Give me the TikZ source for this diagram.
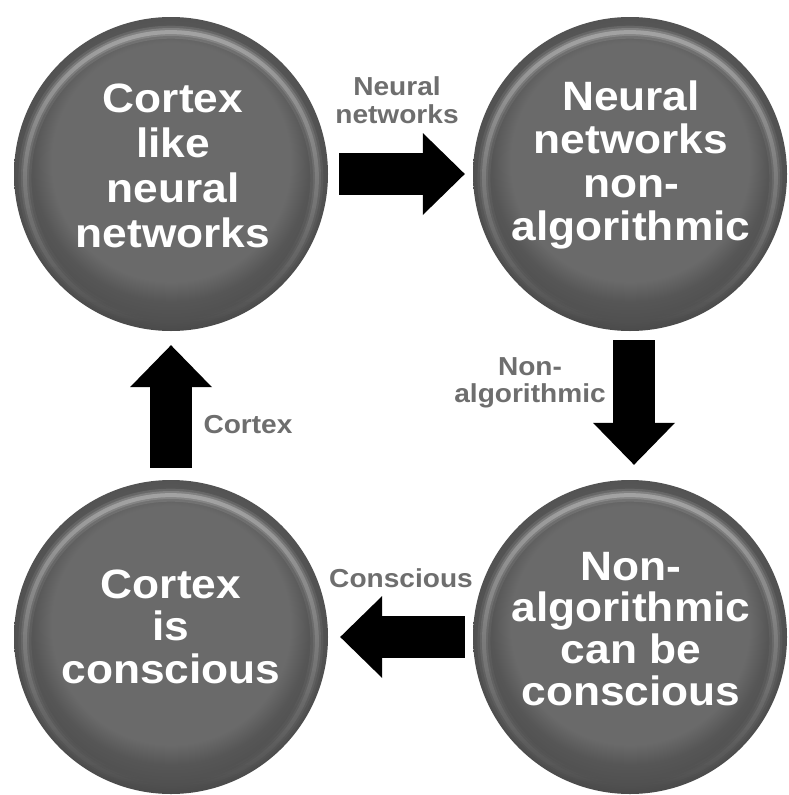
\documentclass[tikz,border=0pt]{standalone}
\usepackage{fontspec}
\setmainfont{Liberation Sans}[FakeStretch=1.08]
\usetikzlibrary{arrows.meta,fadings}
\definecolor{cint}{HTML}{6A6A6A}
\definecolor{ctop}{HTML}{565656}
\definecolor{cside}{HTML}{505050}
\definecolor{cbot}{HTML}{444444}
\definecolor{lblgray}{HTML}{6E6E6E}
\pgfdeclareradialshading{btnbase}{\pgfpoint{0bp}{3bp}}{color(0bp)=(cint); color(19bp)=(cint); color(22bp)=(ctop); color(25bp)=(cside); color(28bp)=(cbot); color(50bp)=(cbot)}
\tikzfading[name=hlv, top color=transparent!0, middle color=transparent!75, bottom color=transparent!100]
\newcommand{\stk}[2]{\vtop{\baselineskip=#1\lineskip=0pt\lineskiplimit=-\maxdimen\halign{\hfil##\hfil\cr#2\crcr}}}
\tikzset{
  btn/.style={circle, minimum size=314pt, inner sep=0pt, shading=btnbase},
  ctext/.style={text=white, font=\fontsize{41}{44}\selectfont\bfseries, inner sep=0pt, anchor=base},
  lbl/.style={text=lblgray, font=\fontsize{26}{28}\selectfont\bfseries, inner sep=0pt, anchor=base},
  barrow/.style={draw=black, line width=42pt, -{Triangle[width=82pt,length=42pt,line width=0pt 0 0]}}
}
\begin{document}
\begin{tikzpicture}[x=1pt,y=-1pt]
\useasboundingbox (0,0) rectangle (788,795);
\fill[white] (0,0) rectangle (788,795);
\node[btn] (c1) at (171,174) {};
\node[btn] (c2) at (630,174) {};
\node[btn] (c3) at (171,637) {};
\node[btn] (c4) at (630,637) {};
\foreach \c in {c1,c2,c3,c4}{
  \begin{scope}
    \clip (\c.center) circle (157pt);
    \foreach \w/\o in {13/0.10, 8/0.16, 4/0.26}{
      \draw[white, line width=\w pt, opacity=\o, path fading=hlv] ([yshift=-4pt]\c.center) circle (146pt);
    }
  \end{scope}
}
\node[ctext] (t1) at (173,112) {\stk{45pt}{Cortex\cr like\cr neural\cr networks}};
\node[ctext] (t2) at (631,110) {\stk{43.5pt}{Neural\cr networks\cr non-\cr algorithmic}};
\node[ctext] (t3) at (171,598) {\stk{42.5pt}{Cortex\cr is\cr conscious}};
\node[ctext] (t4) at (631,580) {\stk{41.7pt}{Non-\cr algorithmic\cr can be\cr conscious}};
\draw[barrow, shorten <=11pt, shorten >=8pt] (c1) -- (c2);
\draw[barrow, shorten <=9pt, shorten >=15pt] ([xshift=4pt]c2.south) -- ([xshift=4pt]c4.north);
\draw[barrow, shorten <=8pt, shorten >=12pt] (c4) -- (c3);
\draw[barrow, shorten <=12pt, shorten >=14pt] (c3) -- (c1);
\node[lbl] (l1) at (397,95) {\stk{28pt}{Neural\cr networks}};
\node[lbl] (l2) at (530,375) {\stk{27pt}{Non-\cr algorithmic}};
\node[lbl] (l3) at (248,433) {Cortex};
\node[lbl] (l4) at (401,587) {Conscious};
\end{tikzpicture}
\end{document}
